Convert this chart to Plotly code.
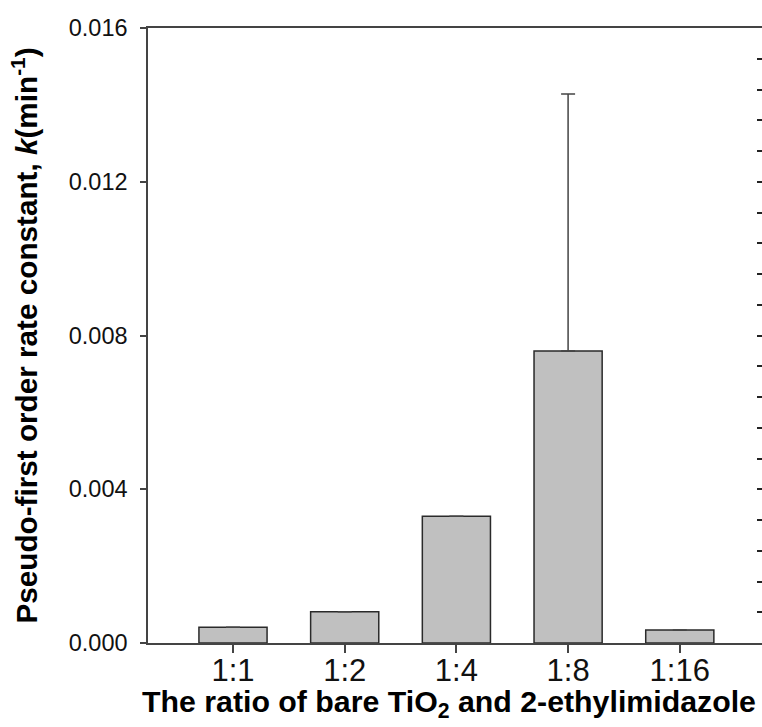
import plotly.graph_objects as go

categories = ["1:1", "1:2", "1:4", "1:8", "1:16"]
k_values = [0.00041, 0.00081, 0.0033, 0.0076, 0.00034]
k_err_plus = [None, None, None, 0.00668, None]

y_ticks = [0.0, 0.004, 0.008, 0.012, 0.016]
y_tick_labels = ["0.000", "0.004", "0.008", "0.012", "0.016"]

x_title = "<b>The ratio of bare TiO<sub>2</sub> and 2-ethylimidazole</b>"
y_title = "<b>Pseudo-first order rate constant, <i>k</i>(min<sup>-1</sup>)</b>"

FONT = "Liberation Sans, Arial, sans-serif"
AXC = "#444444"

fig = go.Figure()
fig.add_trace(go.Bar(
    x=categories, y=k_values,
    marker=dict(color="#c0c0c0", line=dict(color="#2a2a2a", width=1.5)),
    error_y=dict(type="data", array=k_err_plus, arrayminus=[0]*5, symmetric=False,
                 color="#444444", thickness=1.5, width=7),
    showlegend=False, hoverinfo="skip",
))
fig.add_trace(go.Scatter(x=[categories[0]], y=[None], yaxis="y2", showlegend=False,
                         hoverinfo="skip", mode="markers"))

fig.update_layout(
    width=762, height=727,
    margin=dict(l=148, r=0, t=28, b=84),
    plot_bgcolor="white", paper_bgcolor="white",
    bargap=0.39,
    font=dict(family=FONT, color="black"),
    xaxis=dict(
        range=[-0.761, 4.736],
        showline=True, linecolor=AXC, linewidth=1.5, mirror=True,
        ticks="outside", ticklen=8, tickcolor=AXC, tickwidth=1.5,
        tickfont=dict(size=31, color="#111"), ticklabelstandoff=-9,
        showgrid=False, zeroline=False,
    ),
    yaxis=dict(
        range=[0, 0.016],
        tickvals=y_ticks, ticktext=y_tick_labels,
        showline=True, linecolor=AXC, linewidth=1.5,
        ticks="outside", ticklen=6, tickcolor=AXC, tickwidth=1.5,
        tickfont=dict(size=23.5, color="#111"), ticklabelstandoff=8,
        showgrid=False, zeroline=False,
        title=dict(text=y_title, font=dict(size=29.7, color="black"), standoff=22),
    ),
    yaxis2=dict(
        range=[0, 0.016], overlaying="y", side="right", anchor="x",
        tick0=0, dtick=0.0008, ticks="inside", ticklen=5, tickcolor="#222", tickwidth=1.5,
        showticklabels=False, showline=False, showgrid=False, zeroline=False,
    ),
    annotations=[dict(
        text=x_title, xref="paper", yref="paper", x=0.491, y=-0.0976,
        xanchor="center", yanchor="middle", showarrow=False,
        font=dict(size=30.3, color="black", family=FONT),
    )],
)

fig.write_html("out.html")
